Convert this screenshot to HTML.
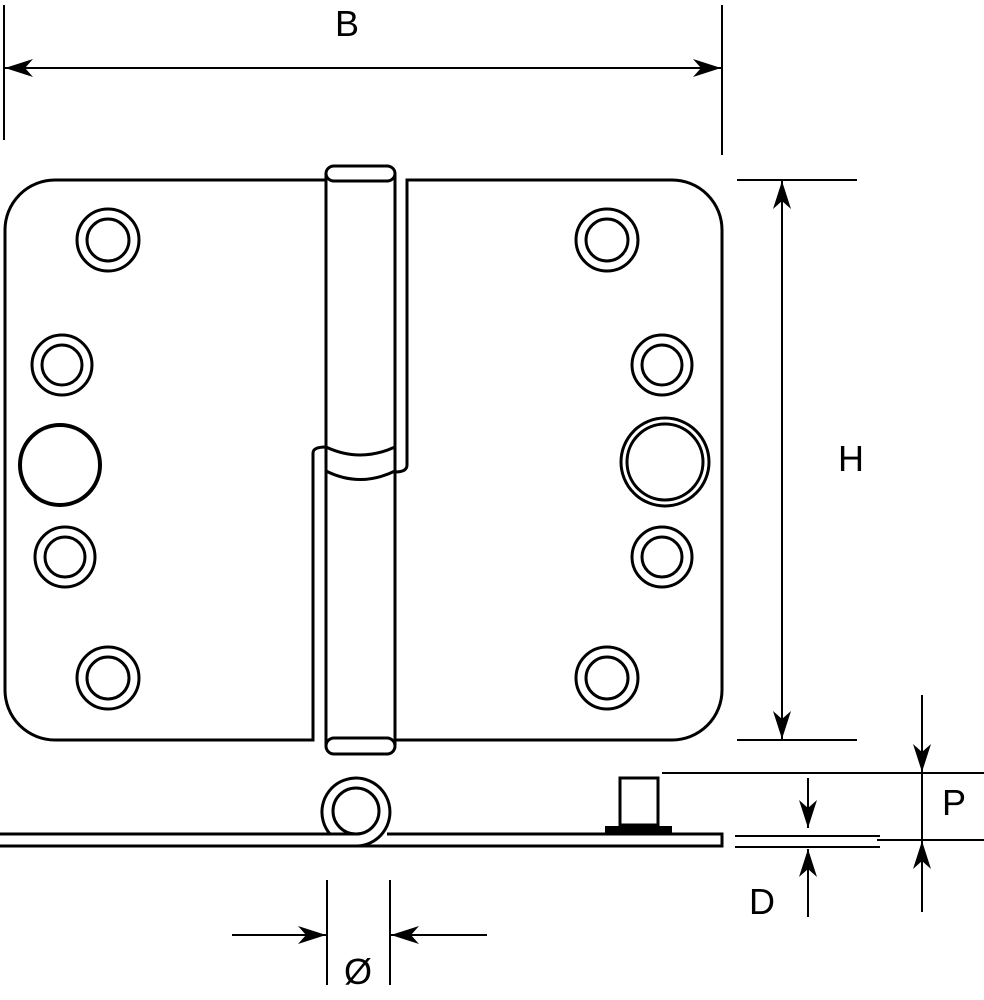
<!DOCTYPE html>
<html><head><style>html,body{margin:0;padding:0;background:#fff}svg{display:block}</style></head>
<body>
<svg width="984" height="1000" viewBox="0 0 984 1000" xmlns="http://www.w3.org/2000/svg">
<defs>
<marker id="b" viewBox="0 0 28 18" refX="28" refY="9" markerWidth="28" markerHeight="18" markerUnits="userSpaceOnUse" orient="auto-start-reverse"><path d="M0,0 L28,9 L0,18 L8,9 Z" fill="#000"/></marker>
</defs>
<g fill="none" stroke="#000" stroke-width="3">
<!-- left leaf -->
<path d="M326,180 H55 A50,50 0 0 0 5,230 V690 A50,50 0 0 0 55,740 H313 V453 Q313,447 326,447"/>
<!-- right leaf -->
<path d="M395,472 Q407,472 407,465 V180 H672 A50,50 0 0 1 722,230 V690 A50,50 0 0 1 672,740 H395"/>
<!-- pin -->
<line x1="326" y1="173" x2="326" y2="745"/>
<line x1="395" y1="173" x2="395" y2="745"/>
<path d="M334,166 H387 A8,7.5 0 0 1 387,181 H334 A8,7.5 0 0 1 334,166 Z" fill="#fff"/>
<path d="M334,738 H387 A8,8 0 0 1 387,754 H334 A8,8 0 0 1 334,738 Z" fill="#fff"/>
<path d="M326,447 Q360,463 395,447"/>
<path d="M326,471 Q360,488 395,471"/>
<!-- holes -->
<circle cx="108" cy="240" r="31"/><circle cx="108" cy="240" r="21"/>
<circle cx="62" cy="365" r="30"/><circle cx="62" cy="365" r="20"/>
<circle cx="60" cy="465" r="40" stroke-width="4"/>
<circle cx="65" cy="557" r="30"/><circle cx="65" cy="557" r="20"/>
<circle cx="108" cy="678" r="31"/><circle cx="108" cy="678" r="21"/>
<circle cx="607" cy="240" r="31"/><circle cx="607" cy="240" r="21"/>
<circle cx="662" cy="365" r="30"/><circle cx="662" cy="365" r="20"/>
<circle cx="665" cy="462" r="44"/><circle cx="665" cy="462" r="38"/>
<circle cx="662" cy="557" r="30"/><circle cx="662" cy="557" r="20"/>
<circle cx="607" cy="678" r="31"/><circle cx="607" cy="678" r="21"/>
<!-- bottom view -->
<path d="M0,834 H357"/>
<path d="M0,846 H722 V834 H387"/>
<circle cx="356" cy="811" r="23"/>
<path d="M330,834 A34,34 0 1 1 357,846"/>
<rect x="620" y="778" width="38" height="47"/>
<rect x="605" y="826" width="67" height="8" fill="#000" stroke="none"/>
<!-- B dims -->
<line x1="4" y1="5" x2="4" y2="140" stroke-width="2"/>
<line x1="722" y1="5" x2="722" y2="155" stroke-width="2"/>
<line x1="5" y1="68" x2="721" y2="68" stroke-width="2" marker-start="url(#b)" marker-end="url(#b)"/>
<!-- H dims -->
<line x1="737" y1="180" x2="857" y2="180" stroke-width="2"/>
<line x1="737" y1="740" x2="857" y2="740" stroke-width="2"/>
<line x1="782" y1="181" x2="782" y2="739" stroke-width="2" marker-start="url(#b)" marker-end="url(#b)"/>
<!-- P dims -->
<line x1="662" y1="773" x2="984" y2="773" stroke-width="2"/>
<line x1="877" y1="840" x2="984" y2="840" stroke-width="2"/>
<line x1="922" y1="695" x2="922" y2="912" stroke-width="2"/>
<line x1="922" y1="695" x2="922" y2="772" stroke-width="2" marker-end="url(#b)"/>
<line x1="922" y1="910" x2="922" y2="841" stroke-width="2" marker-end="url(#b)"/>
<!-- D dims -->
<line x1="735" y1="836" x2="880" y2="836" stroke-width="2"/>
<line x1="735" y1="847" x2="880" y2="847" stroke-width="2"/>
<line x1="808" y1="778" x2="808" y2="828" stroke-width="2" marker-end="url(#b)"/>
<line x1="808" y1="917" x2="808" y2="849" stroke-width="2" marker-end="url(#b)"/>
<!-- Ø dims -->
<line x1="327" y1="880" x2="327" y2="985" stroke-width="2"/>
<line x1="390" y1="880" x2="390" y2="985" stroke-width="2"/>
<line x1="232" y1="935" x2="326" y2="935" stroke-width="2" marker-end="url(#b)"/>
<line x1="487" y1="935" x2="391" y2="935" stroke-width="2" marker-end="url(#b)"/>
</g>
<g font-family="'Liberation Sans', 'DejaVu Sans', sans-serif" font-size="36" fill="#000" text-anchor="middle">
<text x="347" y="36">B</text>
<text x="851" y="471">H</text>
<text x="954" y="815">P</text>
<text x="762" y="914">D</text>
<text x="358" y="984">Ø</text>
</g>
</svg>
</body></html>
